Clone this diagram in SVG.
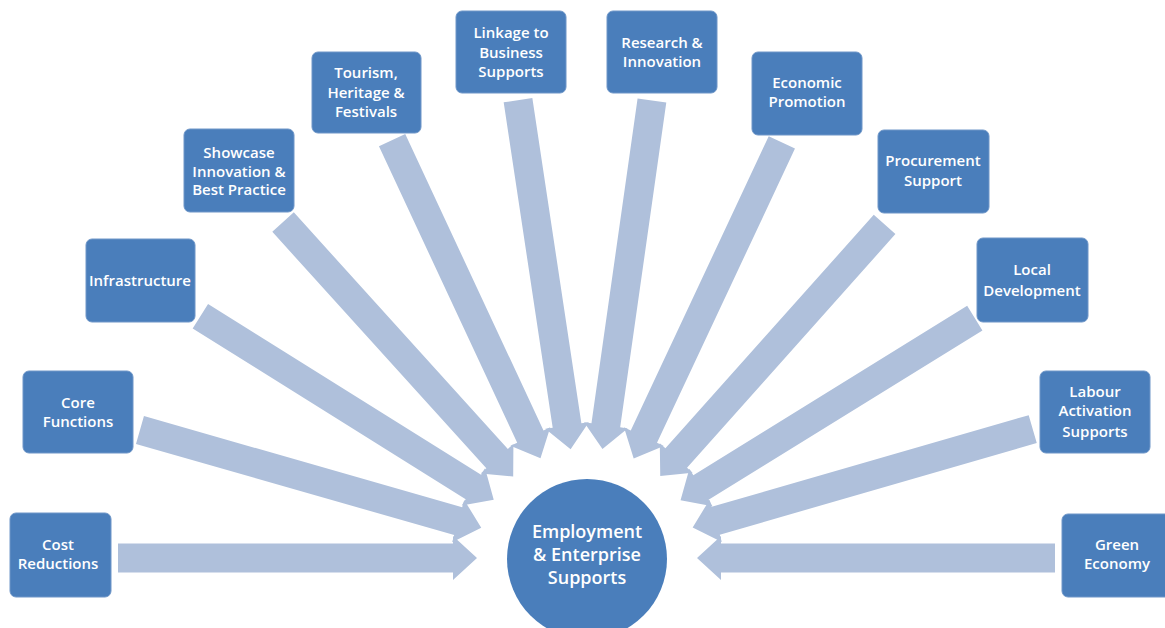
<svg xmlns="http://www.w3.org/2000/svg" width="1165" height="628" viewBox="0 0 1165 628">
<style>
.box{fill:#4A7EBB;stroke:#6E96C8;stroke-width:1}
.arr{fill:#AFC0DB}
.t{font-family:"Open Sans","Noto Sans",sans-serif;font-weight:600;font-size:15px;fill:#FFFFFF;text-anchor:middle}
.c{font-family:"Open Sans","Noto Sans",sans-serif;font-weight:600;font-size:18px;fill:#FFFFFF;text-anchor:middle}
</style>
<rect width="1165" height="628" fill="#FFFFFF"/>
<g id="connectors">
<path class="arr" transform="translate(587,558) rotate(0)" d="M-469,-14.5 H-134 V-22 L-110,0 L-134,22 V14.5 H-469 Z"/>
<path class="arr" transform="translate(587,558) rotate(15.98)" d="M-465,-14.5 H-134 V-22 L-110,0 L-134,22 V14.5 H-465 Z"/>
<path class="arr" transform="translate(587,558) rotate(32.02)" d="M-456,-14.5 H-134 V-22 L-110,0 L-134,22 V14.5 H-456 Z"/>
<path class="arr" transform="translate(587,558) rotate(47.86)" d="M-453,-14.5 H-134 V-22 L-110,0 L-134,22 V14.5 H-453 Z"/>
<path class="arr" transform="translate(587,558) rotate(64.99)" d="M-461,-14.5 H-134 V-22 L-110,0 L-134,22 V14.5 H-461 Z"/>
<path class="arr" transform="translate(587,558) rotate(81.43)" d="M-463,-14.5 H-134 V-22 L-110,0 L-134,22 V14.5 H-463 Z"/>
<path class="arr" transform="translate(587,558) rotate(98.08)" d="M-462,-14.5 H-134 V-22 L-110,0 L-134,22 V14.5 H-462 Z"/>
<path class="arr" transform="translate(587,558) rotate(115.12)" d="M-459,-14.5 H-134 V-22 L-110,0 L-134,22 V14.5 H-459 Z"/>
<path class="arr" transform="translate(587,558) rotate(131.74)" d="M-447,-14.5 H-134 V-22 L-110,0 L-134,22 V14.5 H-447 Z"/>
<path class="arr" transform="translate(587,558) rotate(148.26)" d="M-456,-14.5 H-134 V-22 L-110,0 L-134,22 V14.5 H-456 Z"/>
<path class="arr" transform="translate(587,558) rotate(163.87)" d="M-464,-14.5 H-134 V-22 L-110,0 L-134,22 V14.5 H-464 Z"/>
<path class="arr" transform="translate(587,558) rotate(180)" d="M-468,-14.5 H-134 V-22 L-110,0 L-134,22 V14.5 H-468 Z"/>
</g>
<g id="center">
<circle cx="587" cy="559" r="80" fill="#4A7EBB"/>
<text class="c" x="587" y="538">Employment</text>
<text class="c" x="587" y="561">&amp; Enterprise</text>
<text class="c" x="587" y="584">Supports</text>
</g>
<g id="cost-reductions">
<rect class="box" x="10" y="513" width="101" height="84" rx="6"/>
<text class="t" x="58" y="550">Cost</text>
<text class="t" x="58" y="569">Reductions</text>
</g>
<g id="core-functions">
<rect class="box" x="23" y="371" width="110" height="82" rx="6"/>
<text class="t" x="78" y="408">Core</text>
<text class="t" x="78" y="427">Functions</text>
</g>
<g id="infrastructure">
<rect class="box" x="86" y="239" width="109" height="83" rx="6"/>
<text class="t" x="140" y="286">Infrastructure</text>
</g>
<g id="showcase">
<rect class="box" x="184" y="129" width="110" height="83" rx="6"/>
<text class="t" x="239" y="158">Showcase</text>
<text class="t" x="239" y="177">Innovation &amp;</text>
<text class="t" x="239" y="195">Best Practice</text>
</g>
<g id="tourism">
<rect class="box" x="312" y="52" width="109" height="81" rx="6"/>
<text class="t" x="366" y="78">Tourism,</text>
<text class="t" x="366" y="98">Heritage &amp;</text>
<text class="t" x="366" y="117">Festivals</text>
</g>
<g id="linkage">
<rect class="box" x="456" y="11" width="110" height="82" rx="6"/>
<text class="t" x="511" y="38">Linkage to</text>
<text class="t" x="511" y="58">Business</text>
<text class="t" x="511" y="77">Supports</text>
</g>
<g id="research">
<rect class="box" x="607" y="11" width="110" height="82" rx="6"/>
<text class="t" x="662" y="48">Research &amp;</text>
<text class="t" x="662" y="67">Innovation</text>
</g>
<g id="economic-promotion">
<rect class="box" x="752" y="52" width="110" height="83" rx="6"/>
<text class="t" x="807" y="88">Economic</text>
<text class="t" x="807" y="107">Promotion</text>
</g>
<g id="procurement">
<rect class="box" x="878" y="130" width="111" height="83" rx="6"/>
<text class="t" x="933" y="166">Procurement</text>
<text class="t" x="933" y="186">Support</text>
</g>
<g id="local-development">
<rect class="box" x="977" y="238" width="111" height="84" rx="6"/>
<text class="t" x="1032" y="275">Local</text>
<text class="t" x="1032" y="296">Development</text>
</g>
<g id="labour-activation">
<rect class="box" x="1040" y="371" width="110" height="82" rx="6"/>
<text class="t" x="1095" y="397">Labour</text>
<text class="t" x="1095" y="416">Activation</text>
<text class="t" x="1095" y="437">Supports</text>
</g>
<g id="green-economy">
<rect class="box" x="1062" y="514" width="110" height="83" rx="6"/>
<text class="t" x="1117" y="550">Green</text>
<text class="t" x="1117" y="569">Economy</text>
</g>
</svg>
